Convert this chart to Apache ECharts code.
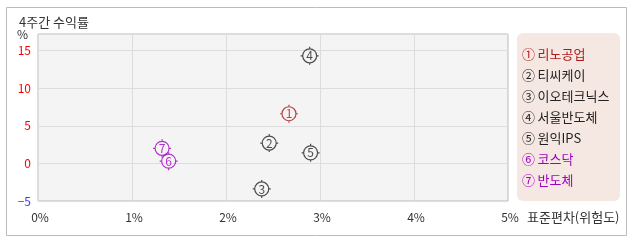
<!DOCTYPE html>
<html><head><meta charset="utf-8">
<script src="https://cdn.jsdelivr.net/npm/echarts@6/dist/echarts.min.js"></script>
<style>html,body{margin:0;padding:0;background:#fff}#c{width:638px;height:242px}</style>
</head><body><div id="c"></div>
<script>
const names = ['①리노공업','②티씨케이','③이오테크닉스','④서울반도체','⑤원익IPS','⑥코스닥','⑦반도체'];
const markNums = ['1','2','3','4','5','6','7'];
const riskValues = [2.67, 2.46, 2.38, 2.89, 2.90, 1.39, 1.32];
const returnValues = [6.6, 2.7, -3.4, 14.3, 1.4, 0.3, 2.0];
const colors = ['#b01818','#222222','#222222','#222222','#222222','#a000c0','#a000c0'];
const xTicks = [0,1,2,3,4,5];
const yTicks = [-5,0,5,10,15];

const FONT = '"Noto Sans CJK KR", "DejaVu Sans", sans-serif';
const markPath = 'path://M7,0 C7,3.866 3.866,7 0,7 C-3.866,7 -7,3.866 -7,0 C-7,-3.866 -3.866,-7 0,-7 C3.866,-7 7,-3.866 7,0 Z M0,-9 L0,-7 M0,7 L0,9 M-9,0 L-7,0 M7,0 L9,0';

const chart = echarts.init(document.getElementById('c'), null, {renderer:'canvas'});
const series = names.map((n,i)=>({
  name: n, type: 'scatter',
  data: [[riskValues[i], returnValues[i]]],
  symbol: markPath, symbolSize: 18, symbolKeepAspect: true,
  itemStyle: {color: 'rgba(0,0,0,0)', borderColor: colors[i], borderWidth: 1.2},
  label: {show: true, position: 'inside', formatter: markNums[i], color: colors[i], fontSize: 12, fontFamily: FONT},
  emphasis: {disabled: true}
}));
chart.setOption({
  animation: false,
  textStyle: {fontFamily: FONT},
  title: {text: '4주간 수익률', left: 14, top: 11, textStyle: {fontSize: 13, fontWeight: 'normal', color: '#333', fontFamily: FONT}},
  graphic: [
    {type:'rect', z: -10, shape:{x:6.5,y:7.5,width:620,height:228}, style:{fill:'#fff', stroke:'#bbbbbb', lineWidth:1}},
    {type:'rect', z: -5, shape:{x:517,y:33,width:103,height:168,r:6}, style:{fill:'#f5e8e2'}}
  ],
  legend: {
    orient: 'vertical', left: 516, top: 47, padding: 0, itemGap: 7,
    itemWidth: 0, itemHeight: 0, icon: 'circle',
    selectedMode: false,
    textStyle: {fontSize: 13, lineHeight: 14, fontFamily: FONT},
    formatter: n => n.charAt(0) + '\u2009' + n.slice(1),
    data: names.map((n,i)=>({name:n, textStyle:{color: colors[i]}}))
  },
  grid: {left: 38, right: 130, top: 34, bottom: 41, show: true, backgroundColor: '#f4f4f4', borderColor: '#b8b8b8', borderWidth: 1},
  xAxis: {
    type: 'value', min: xTicks[0], max: xTicks[xTicks.length-1], interval: 1,
    name: '표준편차(위험도)', nameLocation: 'end', nameGap: 19,
    nameTextStyle: {color:'#333', fontSize: 13, align:'left', verticalAlign:'top', lineHeight: 16, padding:[8,0,0,0]},
    axisLine: {show: false, onZero: false}, axisTick: {show: false},
    axisLabel: {color:'#333', fontSize: 12, margin: 10, padding: [0,0,0,4], formatter: v => v + '%'},
    splitLine: {lineStyle: {color:'#dddddd'}}
  },
  yAxis: {
    type: 'value', min: yTicks[0], max: 17.2, interval: 5,
    name: '%', nameLocation: 'end', nameGap: 0,
    nameTextStyle: {color:'#333', fontSize: 12, align:'right', verticalAlign:'middle', padding:[0,10,0,0]},
    axisLine: {show: false, onZero: false}, axisTick: {show: false},
    axisLabel: {fontSize: 12, margin: 7, showMaxLabel: false,
      formatter: v => yTicks.includes(v) ? String(v).replace('-', '−') : '',
      color: v => (v < 0 ? '#3a3aff' : '#ff0000')},
    splitLine: {lineStyle: {color:'#dddddd'}}
  },
  series: series
});
</script></body></html>
